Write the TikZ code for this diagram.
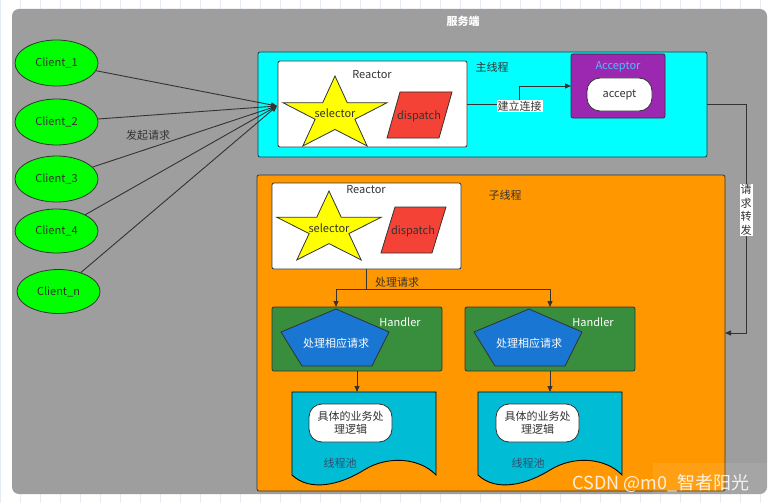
\documentclass[tikz,border=0pt]{standalone}
\usepackage{fontspec}
\setmainfont{Noto Sans CJK SC}
\usetikzlibrary{arrows.meta,shapes.geometric}
\definecolor{bggray}{HTML}{9E9E9E}
\definecolor{gridc}{HTML}{E4ECF6}
\definecolor{cyanbox}{HTML}{00FFFF}
\definecolor{orangebox}{HTML}{FF9800}
\definecolor{clientg}{HTML}{00FF00}
\definecolor{handlerg}{HTML}{388E3C}
\definecolor{pentblue}{HTML}{1976D2}
\definecolor{doccyan}{HTML}{00BCD4}
\definecolor{accpurple}{HTML}{9C27B0}
\definecolor{accblue}{HTML}{40C4FF}
\definecolor{disred}{HTML}{F44336}
\definecolor{staryellow}{HTML}{FFFF00}
\definecolor{linec}{HTML}{333333}
\definecolor{txt}{HTML}{333333}
\definecolor{pooltxt}{HTML}{2F4F6F}
\newcommand\mystarshape[4]{%
  \begin{scope}[shift={(#1,#2)},xscale=#3,yscale=#4]
    \draw[fill=staryellow,draw=linec,line width=0.8pt]
      (0,-1) -- (0.2245,-0.309) -- (0.951,-0.309) -- (0.3633,0.118) -- (0.588,0.809)
      -- (0,0.382) -- (-0.588,0.809) -- (-0.3633,0.118) -- (-0.951,-0.309)
      -- (-0.2245,-0.309) -- cycle;
  \end{scope}}
\newcommand\mypentagon[1]{%
  \begin{scope}[xshift=#1]
    \draw[fill=pentblue,draw=linec,line width=0.8pt]
      (336,309) -- (389,332) -- (372,366) -- (302,366) -- (281,332) -- cycle;
  \end{scope}}
\newcommand\mydocshape[1]{%
  \begin{scope}[xshift=#1]
    \draw[fill=doccyan,draw=black,line width=0.9pt]
      (292,392) -- (436,392) -- (436,475)
      .. controls (420,458) and (388,455) .. (364,470)
      .. controls (340,485) and (310,492) .. (292,475) -- cycle;
  \end{scope}}
\begin{document}
\begin{tikzpicture}[x=1pt,y=-1pt,
  font=\fontsize{11}{13.5}\selectfont,
  every node/.style={text=txt},
  box/.style={draw=linec,line width=0.8pt,inner sep=0pt,outer sep=0pt,rounded corners=2pt},
  client/.style={ellipse,draw=linec,line width=0.8pt,fill=clientg,inner sep=0pt,minimum width=83pt,minimum height=46pt},
  arr/.style={draw=linec,line width=0.9pt,-{Triangle[length=6pt,width=5pt]}},
  plain/.style={draw=linec,line width=0.9pt},
  lbl/.style={inner sep=0pt}]
\useasboundingbox (0,0) rectangle (774,503);
\fill[white] (0,0) rectangle (774,503);
\draw[gridc,line width=0.5pt] (0,0) grid[step={(20,20)}] (774,503);
% background
\node[fill=bggray,inner sep=0pt,minimum width=755pt,minimum height=485pt,rounded corners=7pt] (bg) at (389.5,251.5) {};
\node[lbl,text=white,font=\fontsize{11}{13}\selectfont\bfseries] (title) at (463,21) {服务端};
% main thread
\node[box,fill=cyanbox,minimum width=449pt,minimum height=105pt] (main) at (482.5,104.5) {};
\node[lbl] (mainlbl) at (492,67) {主线程};
\node[box,fill=white,minimum width=189pt,minimum height=86pt] (reactor1) at (372.5,104) {};
\node[lbl] (r1lbl) at (372,75) {Reactor};
\mystarshape{335}{114.7}{54.7}{38.7}
\node[lbl] (sel1) at (335,113) {selector};
\draw[fill=disred,draw=linec,line width=0.8pt] (400,92) -- (452,92) -- (439,138) -- (387,138) -- cycle;
\node[lbl] (dis1) at (419,116) {dispatch};
\node[box,fill=accpurple,minimum width=94pt,minimum height=64pt] (acceptor) at (618,86) {};
\node[lbl,text=accblue] (acclbl) at (618,67) {Acceptor};
\node[box,fill=white,rounded corners=13pt,minimum width=65pt,minimum height=33pt] (accept) at (619.5,94.5) {accept};
% sub thread
\node[box,fill=orangebox,minimum width=468pt,minimum height=316pt] (sub) at (491,333) {};
\node[lbl] (sublbl) at (505,195) {子线程};
\node[box,fill=white,minimum width=189pt,minimum height=86pt] (reactor2) at (366.5,226) {};
\node[lbl] (r2lbl) at (366,190) {Reactor};
\mystarshape{329}{229.1}{54.7}{38.1}
\node[lbl] (sel2) at (329,228) {selector};
\draw[fill=disred,draw=linec,line width=0.8pt] (395,207) -- (446,207) -- (432,253) -- (381,253) -- cycle;
\node[lbl] (dis2) at (413,231) {dispatch};
% handlers
\node[box,fill=handlerg,minimum width=170pt,minimum height=64pt] (h1) at (357,339) {};
\node[box,fill=handlerg,minimum width=170pt,minimum height=64pt] (h2) at (550,339) {};
\node[lbl,text=white] (h1lbl) at (400,322) {Handler};
\node[lbl,text=white] (h2lbl) at (593,322) {Handler};
\mypentagon{0pt}
\mypentagon{193pt}
\node[lbl,text=white] (p1) at (336,343) {处理相应请求};
\node[lbl,text=white] (p2) at (529,343) {处理相应请求};
% thread pools
\mydocshape{0pt}
\mydocshape{186pt}
\coordinate (d1) at (364,392);
\coordinate (d2) at (550,392);
\node[box,fill=white,rounded corners=13pt,minimum width=83pt,minimum height=38pt,align=center] (biz1) at (350.5,423) {具体的业务处\\理逻辑};
\node[box,fill=white,rounded corners=13pt,minimum width=83pt,minimum height=38pt,align=center] (biz2) at (537.5,423) {具体的业务处\\理逻辑};
\node[lbl,text=pooltxt] (pool1) at (340,463) {线程池};
\node[lbl,text=pooltxt] (pool2) at (528,463) {线程池};
% clients
\node[client] (c1) at (56.5,63) {Client\_1};
\node[client] (c2) at (56.5,122) {Client\_2};
\node[client] (c3) at (56.5,179) {Client\_3};
\node[client,minimum height=44pt] (c4) at (56.5,231) {Client\_4};
\node[client,minimum height=44pt] (cn) at (58.5,291.5) {Client\_n};
\coordinate (rin) at (277,106);
\foreach \c in {c1,c2,c3,c4,cn} \draw[arr] (\c) -- (rin);
\node[lbl] (req) at (148,135) {发起请求};
% connect
\draw[arr] (reactor1.east) -- (519,104) |- (acceptor.west);
\node[fill=white,inner sep=1pt] (conn) at (519.5,106) {建立连接};
% forward
\draw[arr] (main.east) -- (746,104.5) |- (sub.east);
\node[fill=white,inner sep=1pt,align=center,font=\fontsize{11}{13.5}\selectfont] (fwd) at (746,210) {请\\求\\转\\发};
% dispatch to handlers
\draw[plain] (reactor2.south) -- (366.5,289) coordinate (split);
\draw[arr] (split) -| (p1 |- h1.north);
\draw[arr] (split) -| (h2.north);
\node[lbl] (proc) at (397,282) {处理请求};
\draw[arr] (h1.south) -- (h1.south |- d1);
\draw[arr] (h2.south) -- (h2.south |- d2);
% watermark
\fill[white,opacity=0.08] (653,463) rectangle (770,495);
\node[lbl,text=white,opacity=0.85,font=\fontsize{18}{20}\selectfont] (wm) at (661,483) {CSDN @m0\_智者阳光};
\end{tikzpicture}
\end{document}
